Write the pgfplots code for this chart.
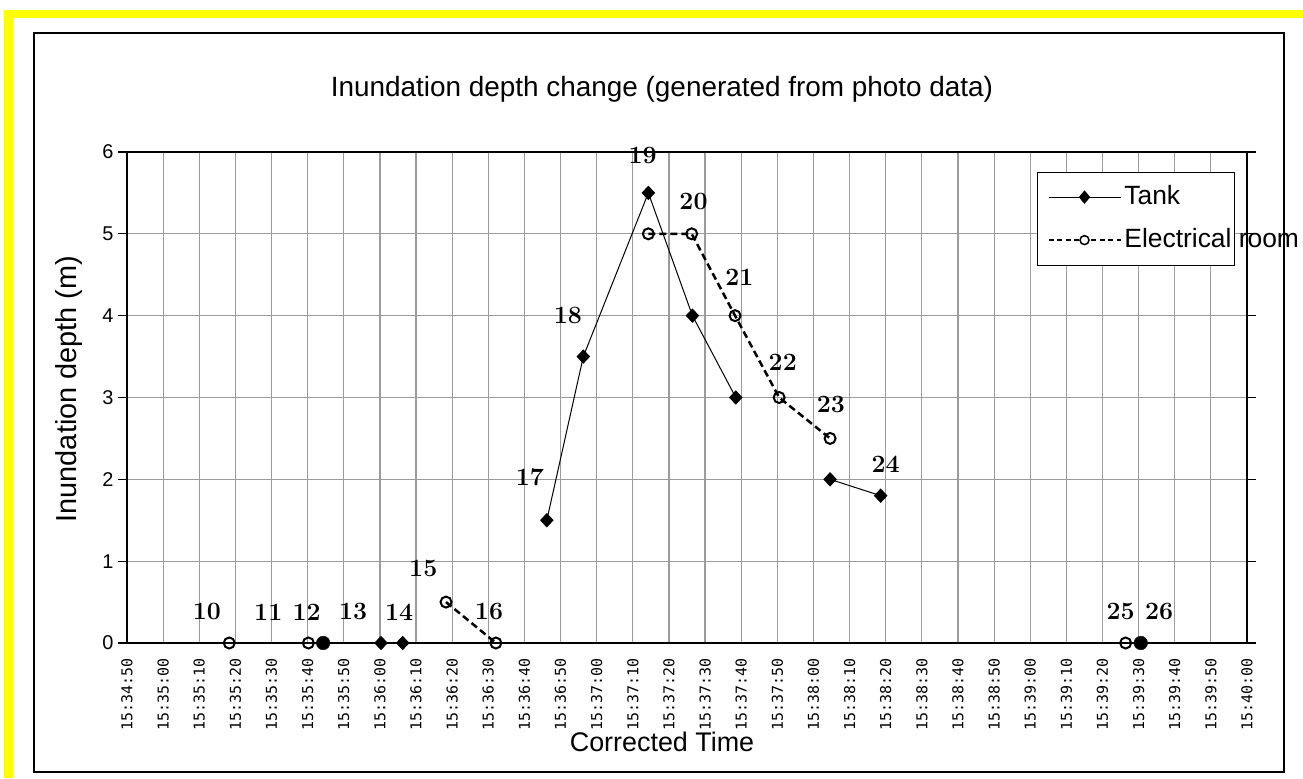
\documentclass[border=0pt]{standalone}
\usepackage{fontspec}
\usepackage{pgfplots}
\pgfplotsset{compat=1.18}
\newfontfamily\arial{Liberation Sans}
\newfontfamily\gothic{DejaVu Sans Mono}
\definecolor{ylw}{RGB}{255,255,0}
\definecolor{grd}{RGB}{155,155,155}
\tikzset{lbl/.style={font=\rmfamily\bfseries\fontsize{25}{27}\selectfont}}
\begin{document}
\begin{tikzpicture}[x=1bp,y=1bp]
\useasboundingbox (0,0) rectangle (1303,778);
\fill[white] (0,0) rectangle (1303,778);
\fill[ylw] (4,760) rectangle (1303,768);
\fill[ylw] (4,0) rectangle (12.5,768);
\draw[line width=2bp] (34,6) rectangle (1284,744.5);
\begin{axis}[
  at={(127bp,135bp)}, anchor=south west,
  scale only axis, width=1120bp, height=491bp,
  xmin=0, xmax=310, ymin=0, ymax=6,
  clip=false,
  axis line style={line width=2bp},
  grid=major, major grid style={grd, line width=1.2bp},
  xtick={0,10,...,310},
  xticklabels={15:34:50,15:35:00,15:35:10,15:35:20,15:35:30,15:35:40,15:35:50,15:36:00,15:36:10,15:36:20,15:36:30,15:36:40,15:36:50,15:37:00,15:37:10,15:37:20,15:37:30,15:37:40,15:37:50,15:38:00,15:38:10,15:38:20,15:38:30,15:38:40,15:38:50,15:39:00,15:39:10,15:39:20,15:39:30,15:39:40,15:39:50,15:40:00},
  ytick={0,1,...,6},
  tick align=outside,
  major tick length=9bp,
  x tick style={draw=none},
  y tick style={black, line width=1.2bp},
  /pgf/number format/assume math mode=true,
  yticklabel style={font=\arial\fontsize{20}{22}\selectfont, xshift=-1bp},
  xticklabel style={rotate=90, anchor=east, font=\gothic\fontsize{15}{17}\selectfont},
  xticklabel shift=3bp,
  legend style={at={(axis cs:251.9,5.76)}, anchor=north west, draw=black, line width=1bp, fill=white,
    font=\arial\fontsize{26.5}{29}\selectfont, inner xsep=10bp, inner ysep=12bp, row sep=17bp,
    nodes={inner sep=0pt, text height=20bp, text depth=6bp}},
  legend cell align=left,
]
\addlegendimage{legend image code/.code={\draw[black,line width=1bp] (0bp,0bp)--(72bp,0bp); \fill[black] (36bp,6bp)--(41bp,0bp)--(36bp,-6bp)--(31bp,0bp)--cycle;}}
\addlegendentry{\hspace{3bp}\makebox[100bp][l]{Tank}}
\addlegendimage{legend image code/.code={\draw[black,line width=1.8bp,dash pattern=on 5bp off 3.5bp] (0bp,0bp)--(72bp,0bp); \draw[black,line width=1.5bp,fill=white] (36bp,0bp) circle (4.5bp);}}
\addlegendentry{\hspace{3bp}\makebox[100bp][l]{Electrical room}}

% Tank (solid, diamonds)
\addplot[forget plot, black, line width=1bp, mark=diamond*, mark size=6.5bp, mark options={xscale=1.25, solid}]
  coordinates {(70.3,0) (76.3,0)};
\addplot[forget plot, black, line width=1bp, mark=diamond*, mark size=6.5bp, mark options={xscale=1.25, solid}]
  coordinates {(116.2,1.5) (126.3,3.5) (144.3,5.5) (156.5,4) (168.5,3)};
\addplot[forget plot, black, line width=1bp, mark=diamond*, mark size=6.5bp, mark options={xscale=1.25, solid}]
  coordinates {(194.6,2) (208.6,1.8)};
% Tank (filled circles)
\addplot[forget plot, only marks, black, mark=*, mark size=6.8bp]
  coordinates {(54.3,0) (280.6,0)};

% Electrical room (dashed, open circles)
\addplot[forget plot, black, line width=2.5bp, dash pattern=on 7bp off 4bp, mark=o, mark size=5.5bp, mark options={solid, line width=2bp, fill=white}]
  coordinates {(88.3,0.5) (102.1,0)};
\addplot[forget plot, black, line width=2.5bp, dash pattern=on 7bp off 4bp, mark=o, mark size=5.5bp, mark options={solid, line width=2bp, fill=white}]
  coordinates {(144.3,5) (156.3,5) (168.3,4) (180.5,3) (194.6,2.5)};
\addplot[forget plot, only marks, black, mark=o, mark size=5.5bp, mark options={solid, line width=2bp, fill=white}]
  coordinates {(28.3,0) (50.2,0) (276.4,0)};

\node[lbl] at (axis cs:22.1,0.38) {10};
\node[lbl] at (axis cs:39.1,0.38) {11};
\node[lbl] at (axis cs:49.7,0.38) {12};
\node[lbl] at (axis cs:62.6,0.38) {13};
\node[lbl] at (axis cs:75.3,0.38) {14};
\node[lbl] at (axis cs:82.0,0.91) {15};
\node[lbl] at (axis cs:100.2,0.38) {16};
\node[lbl] at (axis cs:111.5,2.02) {17};
\node[lbl] at (axis cs:122,4.0) {18};
\node[lbl] at (axis cs:142.7,5.96) {19};
\node[lbl] at (axis cs:156.8,5.39) {20};
\node[lbl] at (axis cs:169.5,4.47) {21};
\node[lbl] at (axis cs:181.5,3.43) {22};
\node[lbl] at (axis cs:194.8,2.91) {23};
\node[lbl] at (axis cs:210,2.18) {24};
\node[lbl] at (axis cs:275.0,0.39) {25};
\node[lbl] at (axis cs:285.7,0.39) {26};
\end{axis}
\node[font=\arial\fontsize{28}{32}\selectfont] at (662,689) {Inundation depth change (generated from photo data)};
\node[font=\arial\fontsize{29}{32}\selectfont, rotate=90] at (69,389) {Inundation depth (m)};
\node[font=\arial\fontsize{27}{30}\selectfont] at (662,36) {Corrected Time};
\end{tikzpicture}
\end{document}
